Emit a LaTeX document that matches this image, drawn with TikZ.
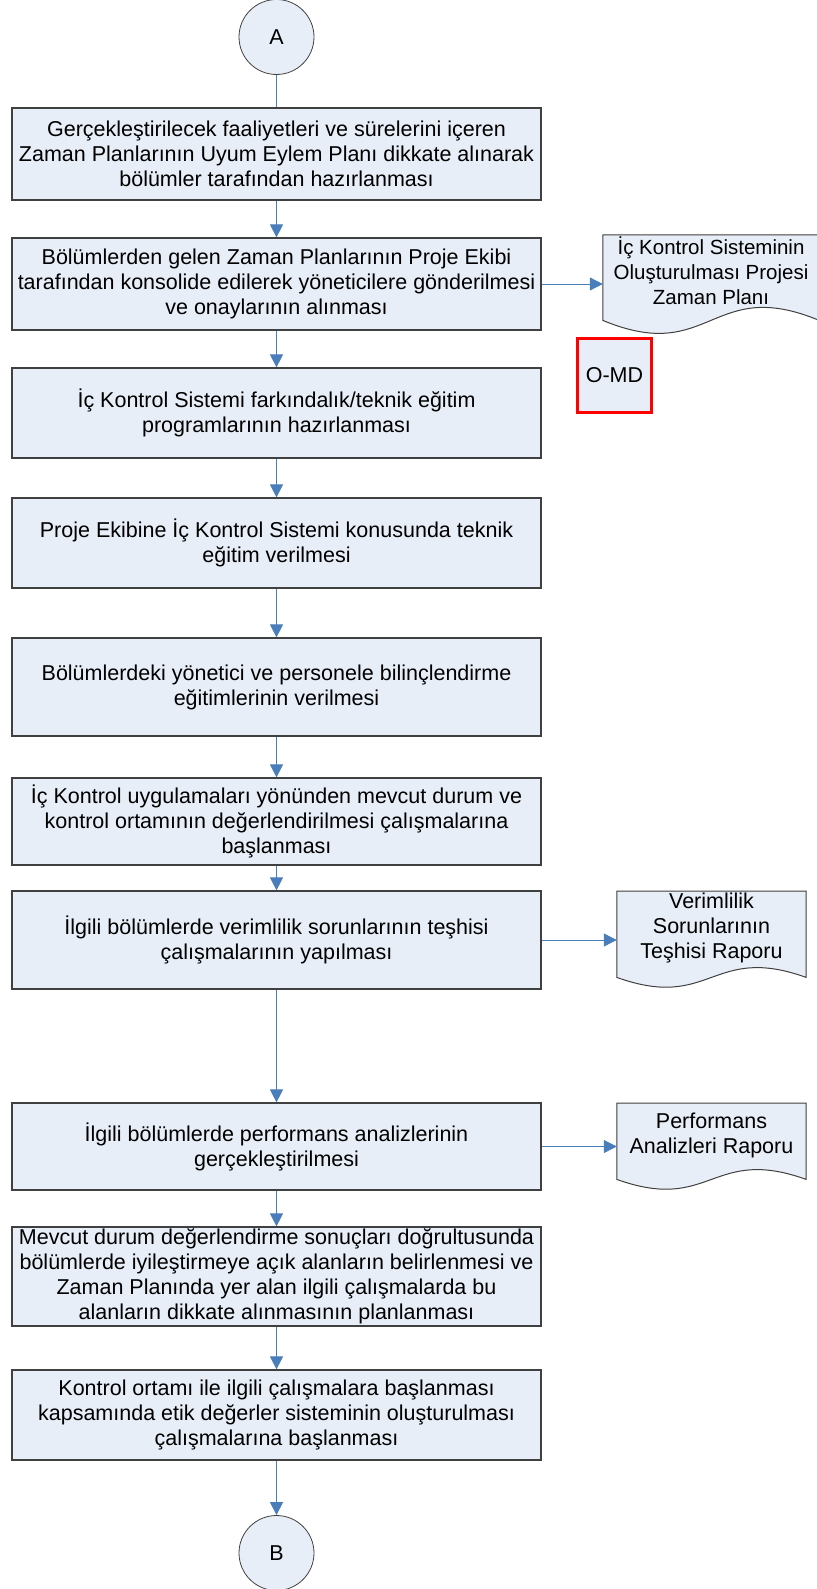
\documentclass[tikz,border=0pt]{standalone}
\usepackage{fontspec}
\setmainfont{Liberation Sans}
\usepackage{tikz}
\usetikzlibrary{arrows.meta,backgrounds,calc,positioning}
\definecolor{kutudolgu}{RGB}{232,238,247}
\definecolor{kenar}{RGB}{64,64,64}
\definecolor{okmavi}{RGB}{74,126,187}
\tikzset{
surec/.style={draw=kenar,line width=1.2pt,fill=kutudolgu,minimum width=529pt,inner sep=0pt,align=center},
baglayici/.style={circle,draw=kenar,line width=0.8pt,fill=kutudolgu,minimum size=75pt,inner sep=0pt},
belge/.style={minimum width=189pt,inner sep=0pt,align=center,anchor=north},
belgecizgi/.style={draw=kenar,line width=1pt,fill=kutudolgu},
hat/.style={draw=okmavi,line width=1pt},
ok/.style={hat,-{Triangle[length=13pt,width=13pt]}},
}
\begin{document}
\begin{tikzpicture}[x=1pt,y=-1pt,font=\fontsize{21.5}{25}\selectfont]
\useasboundingbox (0,0) rectangle (816,1589);
% ana akis
\node[baglayici] (A) at (276.5,37) {A};
\node[surec,minimum height=92pt] (P1) at (276.5,154) {Gerçekleştirilecek faaliyetleri ve sürelerini içeren\\Zaman Planlarının Uyum Eylem Planı dikkate alınarak\\bölümler tarafından hazırlanması};
\node[surec,minimum height=92pt] (P2) at (276.5,284) {Bölümlerden gelen Zaman Planlarının Proje Ekibi\\tarafından konsolide edilerek yöneticilere gönderilmesi\\ve onaylarının alınması};
\node[surec,minimum height=90pt] (P3) at (276.5,413) {İç Kontrol Sistemi farkındalık/teknik eğitim\\programlarının hazırlanması};
\node[surec,minimum height=90pt] (P4) at (276.5,543) {Proje Ekibine İç Kontrol Sistemi konusunda teknik\\eğitim verilmesi};
\node[surec,minimum height=98pt] (P5) at (276.5,687) {Bölümlerdeki yönetici ve personele bilinçlendirme\\eğitimlerinin verilmesi};
\node[surec,minimum height=87pt] (P6) at (276.5,821.5) {İç Kontrol uygulamaları yönünden mevcut durum ve\\kontrol ortamının değerlendirilmesi çalışmalarına\\başlanması};
\node[surec,minimum height=98pt] (P7) at (276.5,940) {İlgili bölümlerde verimlilik sorunlarının teşhisi\\çalışmalarının yapılması};
\node[surec,minimum height=87pt] (P8) at (276.5,1146.5) {İlgili bölümlerde performans analizlerinin\\gerçekleştirilmesi};
\node[surec,minimum height=99pt] (P9) at (276.5,1276.5) {Mevcut durum değerlendirme sonuçları doğrultusunda\\bölümlerde iyileştirmeye açık alanların belirlenmesi ve\\Zaman Planında yer alan ilgili çalışmalarda bu\\alanların dikkate alınmasının planlanması};
\node[surec,minimum height=90pt] (P10) at (276.5,1415) {Kontrol ortamı ile ilgili çalışmalara başlanması\\kapsamında etik değerler sisteminin oluşturulması\\çalışmalarına başlanması};
\node[baglayici] (B) at (276.5,1553) {B};
% belgeler
\node[belge,minimum width=216pt,minimum height=72pt,font=\fontsize{20.5}{25}\selectfont] (D1) at (711,235) {İç Kontrol Sisteminin\\Oluşturulması Projesi\\Zaman Planı};
\node[belge,minimum height=74pt] (D2) at (711.5,891) {Verimlilik\\Sorunlarının\\Teşhisi Raporu};
\node[belge,minimum height=64pt] (D3) at (711.5,1103) {Performans\\Analizleri Raporu};
\node[draw=red,line width=3pt,fill=kutudolgu,minimum size=74pt,inner sep=0pt] (OMD) at (614.5,375.5) {O-MD};
\begin{scope}[on background layer]
\draw[belgecizgi] (D1.north west) -- (D1.north east) -- ($(D1.south east)+(0,13)$) .. controls ($(D1.south)+(0,13-45)$) and ($(D1.south)+(0,13+45)$) .. ($(D1.south west)+(0,13)$) -- cycle;
\draw[belgecizgi] (D2.north west) -- (D2.north east) -- ($(D2.south east)+(0,12)$) .. controls ($(D2.south)+(0,12-34)$) and ($(D2.south)+(0,12+34)$) .. ($(D2.south west)+(0,12)$) -- cycle;
\draw[belgecizgi] (D3.north west) -- (D3.north east) -- ($(D3.south east)+(0,12)$) .. controls ($(D3.south)+(0,12-34)$) and ($(D3.south)+(0,12+34)$) .. ($(D3.south west)+(0,12)$) -- cycle;
\end{scope}
% baglantilar
\draw[hat] (A) -- (P1);
\draw[ok] (P1) -- (P2);
\draw[ok] (P2) -- (P3);
\draw[ok] (P3) -- (P4);
\draw[ok] (P4) -- (P5);
\draw[ok] (P5) -- (P6);
\draw[ok] (P6) -- (P7);
\draw[ok] (P7) -- (P8);
\draw[ok] (P8) -- (P9);
\draw[ok] (P9) -- (P10);
\draw[ok] (P10) -- (B);
\draw[ok] (P2.east) -- (P2.east -| D1.west);
\draw[ok] (P7.east) -- (P7.east -| D2.west);
\draw[ok] (P8.east) -- (P8.east -| D3.west);
\end{tikzpicture}
\end{document}
